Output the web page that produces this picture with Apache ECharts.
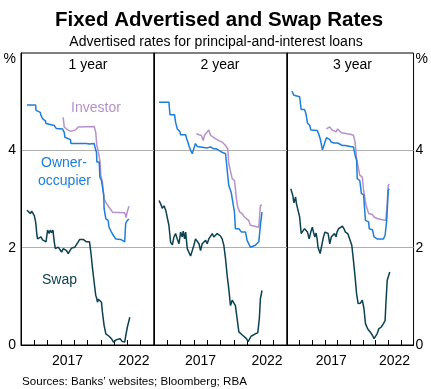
<!DOCTYPE html>
<html><head><meta charset="utf-8">
<script src="https://cdn.jsdelivr.net/npm/echarts@6/dist/echarts.min.js"></script>
<style>html,body{margin:0;padding:0;background:#fff}#c{width:431px;height:389px}</style>
</head><body><div id="c"></div>
<script>
const panelNames = ['1 year', '2 year', '3 year'];
const xLabelYears = [2017, 2022];
const yTickValues = [0, 2, 4, 6];
const yUnit = '%';

const owner1 = [[2014.45,4.93],[2015.1,4.93],[2015.13,4.82],[2015.45,4.78],[2015.5,4.72],[2015.62,4.65],[2015.85,4.6],[2015.88,4.55],[2016.0,4.51],[2016.5,4.51],[2016.55,4.47],[2016.65,4.45],[2017.12,4.44],[2017.25,4.37],[2017.3,4.27],[2017.4,4.24],[2017.72,4.22],[2017.75,4.14],[2018.9,4.14],[2019.0,4.15],[2019.15,4.13],[2019.5,4.14],[2019.55,4.08],[2019.68,3.95],[2019.7,3.76],[2019.88,3.76],[2019.93,3.45],[2020.05,3.38],[2020.18,3.35],[2020.22,3.08],[2020.25,2.8],[2020.38,2.59],[2020.55,2.56],[2020.62,2.42],[2020.8,2.32],[2020.95,2.25],[2021.12,2.18],[2021.5,2.17],[2021.8,2.12],[2021.87,2.5],[2022.0,2.56],[2022.12,2.59]];
const investor1 = [[2017.17,4.68],[2017.25,4.48],[2017.38,4.44],[2017.5,4.42],[2017.75,4.39],[2017.9,4.38],[2018.1,4.42],[2018.3,4.48],[2018.4,4.49],[2019.5,4.49],[2019.55,4.47],[2019.62,4.37],[2019.7,4.1],[2019.8,4.0],[2019.88,3.86],[2019.95,3.76],[2020.0,3.49],[2020.12,3.35],[2020.2,3.31],[2020.25,3.0],[2020.3,2.97],[2020.45,2.9],[2020.62,2.83],[2020.75,2.8],[2020.88,2.73],[2021.8,2.72],[2021.9,2.62],[2022.0,2.75],[2022.12,2.85]];
const swap1 = [[2014.45,2.77],[2014.55,2.73],[2014.7,2.70],[2014.8,2.75],[2014.95,2.79],[2015.0,2.66],[2015.1,2.53],[2015.2,2.25],[2015.25,2.18],[2015.38,2.18],[2015.5,2.22],[2015.62,2.16],[2015.75,2.18],[2015.88,2.12],[2016.0,2.36],[2016.12,2.29],[2016.2,2.36],[2016.3,2.31],[2016.4,2.36],[2016.5,2.12],[2016.58,1.98],[2016.68,1.94],[2016.8,2.01],[2016.92,1.98],[2017.05,1.91],[2017.18,1.98],[2017.3,1.99],[2017.42,1.94],[2017.55,1.88],[2017.68,1.94],[2017.8,1.99],[2017.92,1.96],[2018.05,2.01],[2018.18,1.98],[2018.3,2.12],[2018.42,2.17],[2018.55,2.13],[2018.68,2.17],[2018.8,2.13],[2018.92,2.12],[2019.05,2.10],[2019.15,2.12],[2019.25,1.91],[2019.38,1.57],[2019.5,1.29],[2019.62,1.02],[2019.7,0.95],[2019.75,0.88],[2019.82,0.94],[2019.95,0.92],[2020.05,0.88],[2020.12,0.68],[2020.25,0.40],[2020.38,0.23],[2020.5,0.20],[2020.62,0.18],[2020.8,0.13],[2020.95,0.06],[2021.05,0.03],[2021.18,0.11],[2021.3,0.09],[2021.45,0.13],[2021.62,0.07],[2021.8,0.06],[2021.88,0.20],[2022.0,0.37],[2022.18,0.57]];

const owner2 = [[2014.38,4.99],[2015.12,4.99],[2015.2,4.73],[2015.55,4.73],[2015.62,4.58],[2015.75,4.44],[2015.95,4.38],[2016.0,4.32],[2016.38,4.32],[2016.45,4.24],[2016.55,4.17],[2016.62,4.10],[2016.75,4.0],[2016.88,3.93],[2016.95,4.0],[2017.05,4.03],[2017.12,4.14],[2017.25,4.08],[2017.5,4.07],[2018.0,4.05],[2018.25,4.07],[2018.5,4.03],[2018.7,4.03],[2018.88,4.0],[2019.12,3.96],[2019.38,3.93],[2019.5,3.90],[2019.62,3.28],[2019.75,3.28],[2019.8,3.14],[2019.95,3.11],[2020.05,2.73],[2020.12,2.39],[2020.38,2.39],[2020.58,2.32],[2020.88,2.32],[2021.0,2.15],[2021.12,2.15],[2021.25,2.01],[2021.62,2.05],[2021.88,2.12],[2022.0,2.46],[2022.12,2.73]];
const investor2 = [[2017.18,4.34],[2017.38,4.32],[2017.55,4.31],[2017.7,4.2],[2017.8,4.31],[2017.95,4.32],[2018.12,4.42],[2018.25,4.31],[2018.38,4.27],[2018.62,4.24],[2018.88,4.2],[2019.12,4.17],[2019.38,4.10],[2019.55,4.03],[2019.62,3.73],[2019.75,3.69],[2019.88,3.42],[2020.05,3.38],[2020.12,3.21],[2020.2,3.0],[2020.3,2.83],[2020.45,2.73],[2020.62,2.70],[2020.8,2.63],[2021.12,2.56],[2021.25,2.46],[2021.88,2.42],[2022.0,2.87],[2022.12,2.87]];
const swap2 = [[2014.38,2.97],[2014.5,2.90],[2014.62,2.81],[2014.75,2.86],[2014.88,2.77],[2014.95,2.81],[2015.0,2.80],[2015.12,2.46],[2015.25,2.11],[2015.38,2.06],[2015.5,2.22],[2015.62,2.29],[2015.75,2.18],[2015.88,2.08],[2016.0,2.32],[2016.12,2.22],[2016.2,2.34],[2016.3,2.18],[2016.38,2.32],[2016.5,1.98],[2016.62,1.94],[2016.75,1.83],[2016.88,1.94],[2017.0,2.05],[2017.12,2.18],[2017.25,2.18],[2017.38,2.08],[2017.5,1.94],[2017.62,2.08],[2017.75,2.12],[2017.88,2.15],[2018.0,2.08],[2018.12,2.18],[2018.25,2.22],[2018.38,2.29],[2018.5,2.22],[2018.62,2.25],[2018.75,2.29],[2018.88,2.27],[2019.0,2.24],[2019.12,2.18],[2019.25,2.05],[2019.38,1.77],[2019.5,1.43],[2019.62,1.16],[2019.75,0.81],[2019.88,0.92],[2020.0,0.88],[2020.12,0.81],[2020.25,0.54],[2020.38,0.27],[2020.5,0.23],[2020.62,0.21],[2020.75,0.18],[2020.95,0.13],[2021.08,0.07],[2021.2,0.13],[2021.3,0.18],[2021.45,0.21],[2021.62,0.23],[2021.8,0.25],[2021.92,0.54],[2022.0,0.95],[2022.12,1.12]];

const owner3 = [[2014.38,5.22],[2014.5,5.22],[2014.55,5.13],[2015.0,5.10],[2015.12,4.84],[2015.38,4.84],[2015.5,4.75],[2015.62,4.56],[2015.8,4.51],[2015.88,4.42],[2016.38,4.41],[2016.5,4.34],[2016.62,4.24],[2016.7,4.14],[2016.8,4.01],[2016.88,4.07],[2017.0,4.17],[2017.12,4.26],[2017.25,4.24],[2017.38,4.22],[2017.5,4.17],[2017.7,4.15],[2018.0,4.15],[2018.12,4.14],[2018.38,4.10],[2018.62,4.10],[2019.0,4.08],[2019.25,4.07],[2019.38,3.90],[2019.5,3.79],[2019.55,3.42],[2019.75,3.38],[2019.88,3.11],[2020.05,3.09],[2020.2,2.56],[2020.45,2.53],[2020.5,2.39],[2020.75,2.37],[2020.88,2.22],[2021.12,2.18],[2021.25,2.14],[2021.62,2.18],[2021.75,2.25],[2021.88,2.56],[2022.0,3.18],[2022.08,3.21]];
const investor3 = [[2017.12,4.44],[2017.38,4.48],[2017.55,4.42],[2017.7,4.41],[2017.88,4.38],[2018.0,4.44],[2018.12,4.41],[2018.3,4.36],[2018.75,4.34],[2019.0,4.33],[2019.25,4.31],[2019.38,4.17],[2019.5,3.83],[2019.62,3.79],[2019.75,3.49],[2019.95,3.45],[2020.05,3.18],[2020.25,2.87],[2020.45,2.70],[2020.75,2.68],[2020.88,2.63],[2021.12,2.60],[2021.25,2.56],[2021.8,2.56],[2021.9,2.84],[2022.0,3.28],[2022.08,3.31]];
const swap3 = [[2014.3,3.21],[2014.45,3.08],[2014.55,2.92],[2014.68,3.04],[2014.75,2.90],[2014.88,2.92],[2015.0,2.63],[2015.12,2.29],[2015.25,2.25],[2015.38,2.39],[2015.5,2.42],[2015.62,2.32],[2015.75,2.18],[2015.88,2.32],[2016.0,2.42],[2016.12,2.29],[2016.2,2.22],[2016.3,2.30],[2016.38,2.18],[2016.45,2.01],[2016.62,1.88],[2016.75,2.05],[2016.88,2.22],[2017.0,2.32],[2017.12,2.32],[2017.25,2.29],[2017.38,2.08],[2017.5,2.22],[2017.62,2.18],[2017.75,2.29],[2017.88,2.22],[2017.95,2.32],[2018.08,2.39],[2018.2,2.36],[2018.38,2.44],[2018.5,2.39],[2018.62,2.32],[2018.8,2.29],[2018.95,2.32],[2019.12,2.05],[2019.25,1.74],[2019.38,1.40],[2019.5,1.05],[2019.62,0.85],[2019.7,0.88],[2019.8,0.86],[2019.95,0.92],[2020.08,0.75],[2020.2,0.44],[2020.38,0.33],[2020.5,0.30],[2020.62,0.25],[2020.75,0.20],[2020.88,0.13],[2021.0,0.16],[2021.12,0.23],[2021.25,0.33],[2021.45,0.37],[2021.62,0.44],[2021.75,0.50],[2021.82,0.88],[2021.92,1.33],[2022.0,1.36],[2022.12,1.50]];

const FONT = '"Liberation Sans", Arial, Helvetica, sans-serif';
const C_OWNER = '#1C7ED8', C_INV = '#B690C9', C_SWAP = '#0B4150';

const panels = [
  {owner: owner1, investor: investor1, swap: swap1},
  {owner: owner2, investor: investor2, swap: swap2},
  {owner: owner3, investor: investor3, swap: swap3}
];
const gridLefts = [21, 154, 287];
const gridWidths = [133, 133, 132];
const gridTop = 53, gridHeight = 292;

const grid = [], xAxis = [], yAxis = [], series = [];
const yFmt = v => v === 6 ? '{p|' + yUnit + '}' : String(v);
const yLabelBase = {color: '#000', fontSize: 14, fontFamily: FONT, formatter: yFmt,
  rich: {p: {fontSize: 14, fontFamily: FONT, color: '#000', padding: [12, 0, 0, 0]}}};

panels.forEach((p, i) => {
  grid.push({left: gridLefts[i], top: gridTop, width: gridWidths[i], height: gridHeight,
    show: true, borderColor: '#000', borderWidth: 1, backgroundColor: 'transparent'});
  xAxis.push({type: 'value', gridIndex: i, min: 2014, max: 2024, interval: 1, position: 'bottom',
    axisLine: {show: true, lineStyle: {color: '#000', width: 1}},
    axisTick: {show: true, inside: true, length: 5, lineStyle: {color: '#000'}},
    axisLabel: {show: false}, splitLine: {show: false}});
  xAxis.push({type: 'value', gridIndex: i, min: 2014, max: 2024, interval: 0.5, position: 'bottom',
    axisLine: {show: false}, axisTick: {show: false}, splitLine: {show: false},
    axisLabel: {show: true, margin: 9, color: '#000', fontSize: 14, fontFamily: FONT,
      formatter: v => xLabelYears.includes(v - 0.5) ? String(v - 0.5) : ''}});
  yAxis.push({type: 'value', gridIndex: i, min: yTickValues[0], max: yTickValues[yTickValues.length - 1], interval: 2,
    position: 'left',
    axisLine: {show: true, lineStyle: {color: '#000'}}, axisTick: {show: false},
    axisLabel: Object.assign({show: i === 0, margin: 5}, yLabelBase),
    splitLine: {show: true, showMinLine: false, showMaxLine: false, lineStyle: {color: '#AFAFAF', width: 1}}});
});
yAxis.push({type: 'value', gridIndex: 2, min: 0, max: 6, interval: 2, position: 'right',
  axisLine: {show: false}, axisTick: {show: false}, splitLine: {show: false},
  axisLabel: Object.assign({show: true, margin: 2}, yLabelBase)});

panels.forEach((p, i) => {
  const mk = (name, data, color) => ({name, type: 'line', xAxisIndex: i * 2, yAxisIndex: i, data,
    showSymbol: false, symbol: 'none', lineStyle: {color, width: 1.5}, itemStyle: {color}, silent: true, z: 3});
  series.push(mk('Swap', p.swap, C_SWAP));
  series.push(mk('Investor', p.investor, C_INV));
  series.push(mk('Owner-occupier', p.owner, C_OWNER));
});

const txt = (text, x, y, font, fill, align) => ({type: 'text', x, y, silent: true,
  style: {text, font, fill: fill || '#000', textAlign: align || 'center', verticalAlign: 'middle'}});

const graphic = [
  txt('Fixed Advertised and Swap Rates', 219, 20, 'bold 20.5px ' + FONT),
  txt('Advertised rates for principal-and-interest loans', 216, 42, '14px ' + FONT),
  txt(panelNames[0], 88, 65, '14px ' + FONT),
  txt(panelNames[1], 220, 65, '14px ' + FONT),
  txt(panelNames[2], 352.5, 65, '14px ' + FONT),
  txt('Investor', 96, 108, '14px ' + FONT, C_INV),
  txt('Owner-', 64, 163, '14px ' + FONT, C_OWNER),
  txt('occupier', 64.5, 181, '14px ' + FONT, C_OWNER),
  txt('Swap', 59.5, 280, '14px ' + FONT, C_SWAP),
  txt('Sources: Banks\u2019 websites; Bloomberg; RBA', 22, 382, '11.6px ' + FONT, '#000', 'left')
];

const chart = echarts.init(document.getElementById('c'), null, {renderer: 'canvas'});
chart.setOption({animation: false, backgroundColor: '#fff', textStyle: {fontFamily: FONT},
  grid, xAxis, yAxis, series, graphic});
</script>
</body></html>
